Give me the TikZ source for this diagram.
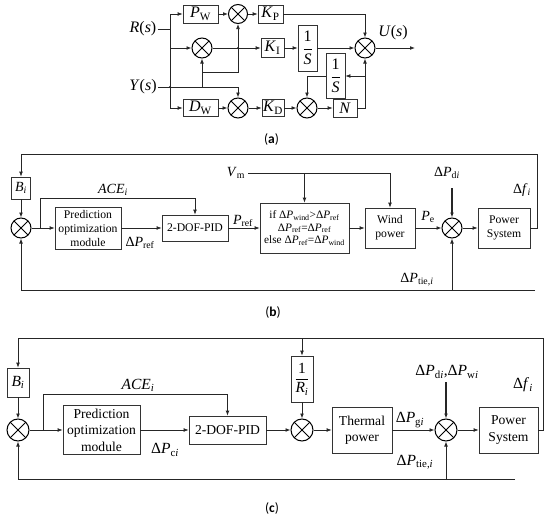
\documentclass[tikz,border=0pt]{standalone}
\usepackage{fontspec}
\setmainfont{Liberation Serif}
\newfontfamily\labfont{Carlito}
\usetikzlibrary{arrows.meta}
\newcommand\sbs[1]{\textsubscript{#1}}
\newcommand\itx[1]{\textit{#1}}
\begin{document}
\begin{tikzpicture}[x=1pt,y=-1pt,
  ln/.style={line width=0.75pt,draw=black!85},
  arr/.style={ln,-{Latex[length=5pt,width=3.8pt]}},
  tarr/.style={arr,line width=1.2pt},
  blk/.style 2 args={draw=black!80,line width=0.75pt,inner sep=0pt,minimum width=#1,minimum height=#2,align=center},
  sumj/.style={circle,draw=black,line width=1pt,inner sep=0pt,minimum size=#1,
    path picture={\draw[line width=0.9pt] (path picture bounding box.center) +(45:#1) -- +(225:#1) +(135:#1) -- +(315:#1);}},
  fA/.style={font=\fontsize{16}{18}\selectfont},
  fB/.style={font=\fontsize{11.7}{14}\selectfont},
  fBl/.style={font=\fontsize{14}{16}\selectfont},
  fIf/.style={font=\fontsize{11.3}{12.5}\selectfont},
  fC/.style={font=\fontsize{13.6}{16.5}\selectfont},
  fCl/.style={font=\fontsize{15.5}{17}\selectfont},
  figcap/.style={font=\fontsize{13.5}{15}\labfont},
  txt/.style={inner sep=1pt}
]
\useasboundingbox (0,0) rectangle (550,522);

% ================= (a) =================
\begin{scope}[fA]
\node[txt] (R) at (143,29) {\itx{R}(\itx{s})};
\node[txt] (Y) at (143,87) {\itx{Y}(\itx{s})};
\node[blk={35pt}{18pt}] (PW) at (200.5,14) {\itx{P}\sbs{W}};
\node[sumj=19pt] (sA1) at (238,14) {};
\node[blk={25pt}{18pt}] (KP) at (270.5,14) {\itx{K}\sbs{P}};
\node[sumj=20pt] (sA2) at (202,48) {};
\node[blk={23pt}{19pt}] (KI) at (272.5,48) {\itx{K}\sbs{I}};
\node[blk={19pt}{46pt}] (I1) at (307.5,48) {$\displaystyle\frac{\mbox{1}}{\mbox{\itx{S}}}$};
\node[sumj=20pt] (sA3) at (365,48) {};
\node[blk={19pt}{45pt}] (I2) at (335.5,76) {$\displaystyle\frac{\mbox{1}}{\mbox{\itx{S}}}$};
\node[blk={35pt}{17pt}] (DW) at (200.5,108) {\itx{D}\sbs{W}};
\node[sumj=20pt] (sA4) at (238,108) {};
\node[blk={22pt}{17pt}] (KD) at (273,108) {\itx{K}\sbs{D}};
\node[sumj=20pt] (sA5) at (307,108) {};
\node[blk={24pt}{18pt}] (N) at (345,108) {\itx{N}};
\node[txt] (U) at (393,33) {\itx{U}(\itx{s})};
\end{scope}
\coordinate (ra) at (170,29);
\coordinate (rb) at (170,48);
\coordinate (yb) at (202,87);
\coordinate (yc) at (202,72);
\coordinate (fa) at (365,76);
\coordinate (uo) at (415,48);
\draw[ln] (R.east) -- (ra);
\draw[arr] (ra) |- (PW.west);
\draw[arr] (ra) |- (DW.west);
\draw[arr] (rb) -- (sA2.west);
\draw[arr] (PW) -- (sA1);
\draw[arr] (sA1) -- (KP);
\draw[arr] (KP.east) -| (sA3.north);
\draw[arr] (sA2) -- (KI);
\draw[arr] (KI) -- (I1);
\draw[arr] (I1) -- (sA3);
\draw[arr] (sA3.east) -- (uo);
\draw[arr] (Y.east) -| (sA4.north);
\draw[arr] (yb) -- (sA2.south);
\draw[arr] (yc) -| (sA1.south);
\draw[arr] (DW) -- (sA4);
\draw[arr] (sA4) -- (KD);
\draw[arr] (KD) -- (sA5);
\draw[arr] (sA5) -- (N);
\draw[arr] (N.east) -| (sA3.south);
\draw[arr] (fa) -- (I2.east);
\draw[arr] (I2.west) -| (sA5.north);
\fill[black!85] (170,87) circle (1.2pt) (238,48) circle (1.2pt);
\node[figcap] (capA) at (271.5,139) {(\textbf{a})};

% ================= (b) =================
\node[blk={19pt}{22pt},fBl] (Bib) at (21,188) {\itx{B}\sbs{\itx{i}}};
\node[sumj=20pt] (sB1) at (21,228) {};
\node[blk={66pt}{42pt},fB] (Predb) at (88,228) {Prediction\\optimization\\module};
\node[blk={66pt}{26pt},fB] (PIDb) at (195,228) {2-DOF-PID};
\node[blk={89pt}{50pt},fIf] (IFb) at (304.5,228) {if Δ\itx{P}\sbs{wind}>Δ\itx{P}\sbs{ref}\\Δ\itx{P}\sbs{ref}=Δ\itx{P}\sbs{ref}\\else Δ\itx{P}\sbs{ref}=Δ\itx{P}\sbs{wind}};
\node[blk={50pt}{40pt},fB] (WP) at (390,228) {Wind\\power};
\node[sumj=20pt] (sB2) at (452,228) {};
\node[blk={52pt}{40pt},fB] (PSb) at (504,228) {Power\\System};
\begin{scope}[fBl]
\node[txt] (ACEb) at (113,190) {\itx{ACE}\sbs{\itx{i}}};
\node[txt] (dPrefb) at (140,243) {Δ\itx{P}\sbs{ref}};
\node[txt] (Prefb) at (243,221) {\itx{P}\sbs{ref}};
\node[txt,inner sep=3pt] (Vm) at (236,173) {\itx{V}\sbs{m}};
\node[txt] (Peb) at (428,217) {\itx{P}\sbs{e}};
\node[txt] (dPdib) at (447,173) {Δ\itx{P}\sbs{d\itx{i}}};
\node[txt] (dPtieb) at (417,280) {Δ\itx{P}\sbs{tie,\itx{i}}};
\node[txt] (dfb) at (522,190) {Δ\itx{f}\sbs{\itx{i}}};
\end{scope}
\coordinate (bTR) at (537,154);
\coordinate (bTL) at (21,154);
\coordinate (bBR) at (535,290);
\coordinate (bBr) at (40,228);
\coordinate (bUp) at (40,198);
\coordinate (bD) at (452,188);
\draw[arr] (PSb.east) -| (bTR) -- (bTL) -- (Bib.north);
\draw[arr] (Bib) -- (sB1);
\draw[arr] (bBR) -| (sB1.south);
\draw[arr] (sB2 |- bBR) -- (sB2.south);
\draw[arr] (sB1) -- (Predb);
\draw[arr] (bBr) -- (bUp) -| (PIDb.north);
\draw[arr] (Predb) -- (PIDb);
\draw[arr] (PIDb) -- (IFb);
\draw[arr] (IFb) -- (WP);
\draw[arr] (WP) -- (sB2);
\draw[arr] (sB2) -- (PSb);
\draw[arr] (Vm.east) -| (WP.north);
\draw[arr] (IFb.north |- Vm.east) -- (IFb.north);
\draw[tarr] (bD) -- (sB2.north);
\node[figcap] (capB) at (273,312) {(\textbf{b})};

% ================= (c) =================
\node[blk={22pt}{29pt},fCl] (Bic) at (18,382.5) {\itx{B}\sbs{\itx{i}}};
\node[sumj=22pt] (sC1) at (18,430) {};
\node[blk={77pt}{49pt},fC] (Predc) at (101.5,430) {Prediction\\optimization\\module};
\node[blk={77pt}{28pt},fC] (PIDc) at (227.5,430) {2-DOF-PID};
\node[blk={22pt}{46pt},fCl] (Rc) at (302,379) {$\displaystyle\frac{\mbox{1}}{\mbox{\itx{R}\sbs{\itx{i}}}}$};
\node[sumj=22pt] (sC2) at (302,430) {};
\node[blk={60pt}{46pt},fC] (TP) at (362,430) {Thermal\\power};
\node[sumj=22pt] (sC3) at (446,430) {};
\node[blk={59pt}{46pt},fC] (PSc) at (508.5,430) {Power\\System};
\begin{scope}[fCl]
\node[txt] (ACEc) at (138,385) {\itx{ACE}\sbs{\itx{i}}};
\node[txt] (dPcic) at (165,450) {Δ\itx{P}\sbs{c\itx{i}}};
\node[txt] (dPgic) at (410,420) {Δ\itx{P}\sbs{g\itx{i}}};
\node[txt] (dPdwc) at (447,372) {Δ\itx{P}\sbs{d\itx{i}},Δ\itx{P}\sbs{w\itx{i}}};
\node[txt] (dPtiec) at (415,462) {Δ\itx{P}\sbs{tie,\itx{i}}};
\node[txt] (dfc) at (523,385) {Δ\itx{f}\sbs{\itx{i}}};
\end{scope}
\coordinate (cTR) at (543,338);
\coordinate (cTL) at (18,338);
\coordinate (cBR) at (515,479);
\coordinate (cBr) at (43,430);
\coordinate (cUp) at (43,394);
\coordinate (cD) at (446,382);
\draw[arr] (PSc.east) -| (cTR) -- (cTL) -- (Bic.north);
\draw[arr] (Bic) -- (sC1);
\draw[arr] (cBR) -| (sC1.south);
\draw[arr] (sC3 |- cBR) -- (sC3.south);
\draw[arr] (sC1) -- (Predc);
\draw[arr] (cBr) -- (cUp) -| (PIDc.north);
\draw[arr] (Predc) -- (PIDc);
\draw[arr] (PIDc) -- (sC2);
\draw[arr] (Rc |- cTL) -- (Rc.north);
\draw[arr] (Rc) -- (sC2);
\draw[arr] (sC2) -- (TP);
\draw[arr] (TP) -- (sC3);
\draw[arr] (sC3) -- (PSc);
\draw[tarr] (cD) -- (sC3.north);
\node[figcap] (capC) at (272,508) {(\textbf{c})};
\end{tikzpicture}
\end{document}
